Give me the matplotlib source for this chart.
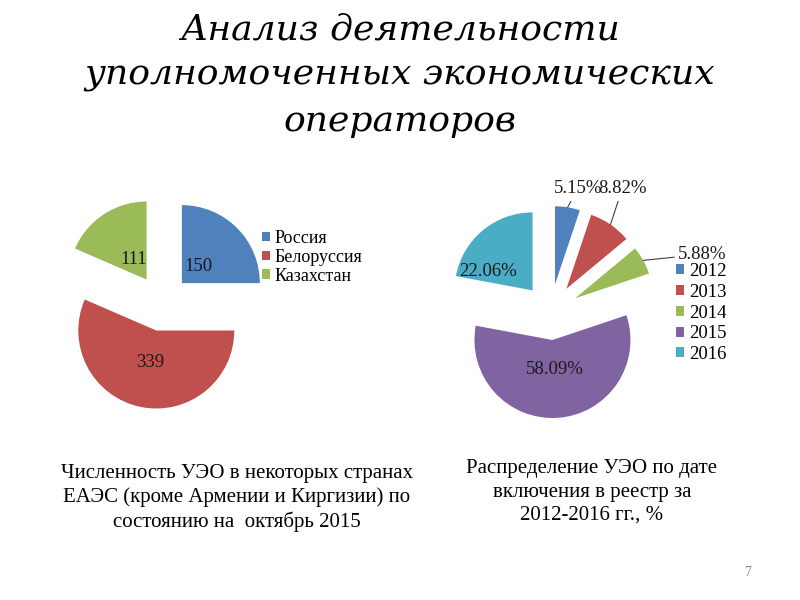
"""Slide: two exploded pie charts about authorised economic operators (AEO)."""
import numpy as np
import matplotlib
matplotlib.use("Agg")
import matplotlib.pyplot as plt

# data
countries = ["Россия", "Белоруссия", "Казахстан"]
counts = [150, 339, 111]
years = ["2012", "2013", "2014", "2015", "2016"]
shares = [5.15, 8.82, 5.88, 58.09, 22.06]

title = "Анализ деятельности\nуполномоченных экономических\nоператоров"
cap_left = "Численность УЭО в некоторых странах\nЕАЭС (кроме Армении и Киргизии) по\nсостоянию на  октябрь 2015"
cap_right = "Распределение УЭО по дате\nвключения в реестр за\n2012-2016 гг., %"

# style
C_LEFT = ["#4F81BD", "#C0504D", "#9BBB59"]
C_RIGHT = ["#4F81BD", "#C0504D", "#9BBB59", "#8064A2", "#4BACC6"]
SERIF = "Liberation Serif"
W, H = 800, 600
R_PX = 78
EXPL = 0.36

fig = plt.figure(figsize=(8, 6), dpi=100)
fig.patch.set_facecolor("white")


def pie_axes(cx, cy, half=1.6):
    # cx, cy = pie centre in pixels from the top-left corner
    s = 2 * half * R_PX
    ax = fig.add_axes([(cx - s / 2) / W, (H - cy - s / 2) / H, s / W, s / H])
    return ax, half


def finish(ax, half):
    ax.set_xlim(-half, half); ax.set_ylim(-half, half)
    ax.set_aspect("equal"); ax.axis("off")


def wpoint(w, frac, dang=0.0):
    a = np.deg2rad((w.theta1 + w.theta2) / 2 + dang)
    return w.center[0] + frac * w.r * np.cos(a), w.center[1] + frac * w.r * np.sin(a)


# left pie: counts by country
axl, hl = pie_axes(162, 303)
wl, _ = axl.pie(counts, colors=C_LEFT, startangle=90, counterclock=False,
                explode=[EXPL] * len(counts), wedgeprops=dict(linewidth=0))
finish(axl, hl)
for w, v, f in zip(wl, counts, [0.3, 0.42, 0.3]):
    x, y = wpoint(w, f)
    axl.text(x, y, str(v), ha="center", va="center", fontsize=13.5, family=SERIF,
             color="#1a1a1a")

# right pie: share by year
axr, hr = pie_axes(550.5, 312)
wr, _ = axr.pie(shares, colors=C_RIGHT, startangle=90, counterclock=False,
                explode=[EXPL] * len(shares), wedgeprops=dict(linewidth=0))
finish(axr, hr)
# inner labels (2015, 2016)
for i, f, da in [(3, 0.38, 0), (4, 0.62, 27)]:
    x, y = wpoint(wr[i], f, da)
    axr.text(x, y, f"{shares[i]:.2f}%", ha="center", va="center", fontsize=13.5,
             family=SERIF, color="#1a1a1a")
# outer labels with leader lines (2012-2014)
for i, xt in [(0, (0.35, 1.58)), (1, (0.92, 1.58)), (2, (1.95, 0.74))]:
    axr.annotate(f"{shares[i]:.2f}%", xy=wpoint(wr[i], 1.0), xytext=xt,
                 ha="center", va="center", fontsize=13.5, family=SERIF, color="#1a1a1a",
                 arrowprops=dict(arrowstyle="-", color="#404040", lw=0.8,
                                 shrinkA=1, shrinkB=0), annotation_clip=False)

# legends
leg_kw = dict(loc="upper left", frameon=False, handlelength=0.45, handleheight=0.45,
              handletextpad=0.25, borderpad=0, borderaxespad=0)
fig.legend(wl, countries, bbox_to_anchor=(262 / W, 1 - 230 / H),
           prop=dict(family=SERIF, size=13), labelspacing=0.1, **leg_kw)
fig.legend(wr, years, bbox_to_anchor=(676 / W, 1 - 263 / H),
           prop=dict(family=SERIF, size=13.5), labelspacing=0.2, **leg_kw)

# texts
fig.text(0.5, 1 - 75 / H, title, ha="center", va="center", ma="center",
         fontsize=26, family="DejaVu Serif", style="italic", linespacing=1.42)
fig.text(237 / W, 1 - 498 / H, cap_left, ha="center", va="center", ma="center",
         fontsize=15, family=SERIF, linespacing=1.3)
fig.text(592 / W, 1 - 492 / H, cap_right, ha="center", va="center", ma="center",
         fontsize=15, family=SERIF, linespacing=1.3)
fig.text(748 / W, 1 - 573 / H, "7", ha="center", va="center", fontsize=10,
         family=SERIF, color="#8c8c8c")

fig.savefig("out.png", dpi=100)
